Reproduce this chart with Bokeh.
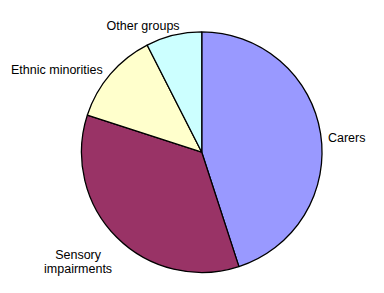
import numpy as np
from bokeh.plotting import figure
from bokeh.models import Range1d, ColumnDataSource
from bokeh.core.properties import value
from bokeh.embed import file_html
from bokeh.resources import INLINE

# data
categories = ["Carers", "Sensory impairments", "Ethnic minorities", "Other groups"]
shares = [45.0, 35.0, 12.5, 7.5]
colors = ["#9999FF", "#993366", "#FFFFCC", "#CCFFFF"]
label_lines = [["Carers"], ["Sensory", "impairments"], ["Ethnic minorities"], ["Other groups"]]

# layout (reference pixel space 384x293 drawn into a 368x277 canvas)
W, H = 368, 277
RW, RH = 384, 293
CX, CY, R = 210, 132.5, 125.5
LINE_H = 14.5
label_align = ["left", "center", "right", "center"]
label_dx = [7.7, -40.3, -7.9, -31.9]
label_dy = [-4.1, -20.0, 6.0, 11.5]

frac = np.array(shares) / sum(shares)
cum = np.concatenate([[0], np.cumsum(frac)])
start = np.pi / 2 - 2 * np.pi * cum[:-1]
end = np.pi / 2 - 2 * np.pi * cum[1:]
mid = 2 * np.pi * (cum[:-1] + cum[1:]) / 2  # clockwise from top

p = figure(width=W, height=H, output_backend="svg", toolbar_location=None,
           x_range=Range1d(0, RW), y_range=Range1d(0, RH), min_border=0)
p.axis.visible = False
p.grid.visible = False
p.outline_line_color = None
p.background_fill_color = "white"

src = ColumnDataSource(dict(start=start, end=end, color=colors))
p.wedge(x=CX, y=CY, radius=R, start_angle="start", end_angle="end",
        direction="clock", fill_color="color", line_color="black",
        line_width=1.3, source=src)

for i, lines in enumerate(label_lines):
    ax = CX + R * np.sin(mid[i]) + label_dx[i]
    ay = CY + R * np.cos(mid[i]) + label_dy[i]
    for k, t in enumerate(lines):
        p.text(x=[ax], y=[ay - k * LINE_H], text=[t], text_align=label_align[i],
               text_baseline="alphabetic", text_font=value("Liberation Sans"),
               text_font_size="12.5px", text_color="black")

open("out.html", "w").write(file_html(p, INLINE))
